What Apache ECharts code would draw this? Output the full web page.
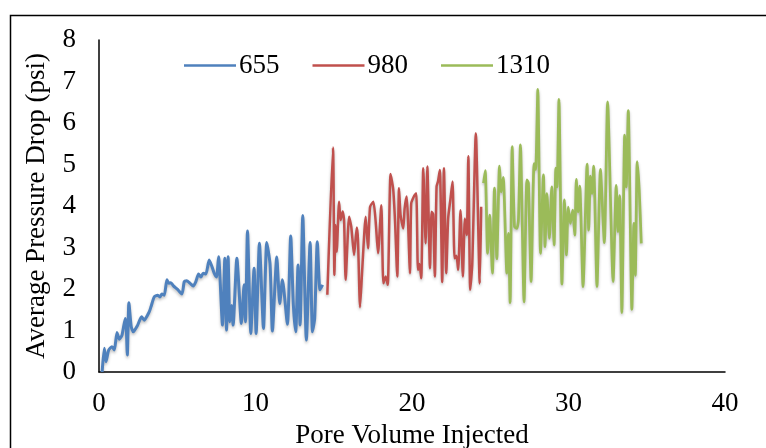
<!DOCTYPE html>
<html><head><meta charset="utf-8">
<script src="https://cdn.jsdelivr.net/npm/echarts@6/dist/echarts.min.js"></script>
<style>html,body{margin:0;padding:0;background:#fff}#c{width:766px;height:448px}</style>
</head><body><div id="c"></div>
<script>
const xTicks = [0, 10, 20, 30, 40];
const yTicks = [0, 1, 2, 3, 4, 5, 6, 7, 8];
const names = ['655', '980', '1310'];

const pv655 = [0.2,0.34,0.45,0.62,0.83,0.98,1.15,1.3,1.47,1.68,1.74,1.81,1.91,2.06,2.19,2.47,2.72,2.89,3.21,3.32,3.53,3.74,3.89,4.02,4.17,4.34,4.45,4.59,4.77,5.02,5.3,5.45,5.6,5.81,6.02,6.19,6.36,6.51,6.66,6.83,7.04,7.21,7.36,7.51,7.64,7.89,8.04,8.15,8.25,8.36,8.47,8.57,8.81,9.1,9.27,9.36,9.49,9.7,9.91,10.04,10.25,10.51,10.72,10.93,11.08,11.36,11.55,11.72,12.04,12.25,12.42,12.57,12.72,12.85,13.02,13.25,13.49,13.64,13.78,13.95,14.12,14.29];
const dp655 = [0.0,0.57,0.25,0.53,0.61,0.53,0.95,0.79,0.89,1.29,1.1,0.41,1.67,1.09,0.97,1.13,1.33,1.25,1.45,1.57,1.81,1.85,1.81,1.88,1.85,2.22,2.14,2.15,2.07,1.99,1.88,2.18,2.2,2.14,2.07,2.18,2.36,2.29,2.38,2.36,2.7,2.55,2.38,2.29,2.78,1.13,2.74,1.01,2.78,1.21,1.6,1.13,2.74,1.17,2.1,1.21,3.4,0.93,2.5,0.93,3.1,1.05,3.12,2.6,0.99,2.77,1.65,2.22,1.15,3.28,1.61,0.97,2.58,1.13,3.77,0.77,3.12,0.97,1.29,3.14,1.98,2.1];

const pv980 = [14.59,14.95,15.04,15.12,15.19,15.34,15.44,15.57,15.66,15.76,15.98,16.12,16.3,16.47,16.55,16.68,16.83,17.04,17.19,17.32,17.53,17.68,17.83,18.04,18.17,18.32,18.45,18.63,18.8,18.92,19.06,19.17,19.27,19.44,19.53,19.66,19.74,19.87,19.95,20.12,20.27,20.38,20.48,20.59,20.72,20.87,20.98,21.15,21.25,21.35,21.46,21.57,21.66,21.78,21.93,22.04,22.19,22.31,22.46,22.59,22.72,22.84,22.95,23.1,23.25,23.38,23.5,23.6,23.72,23.85,24.08,24.33,24.42];
const dp980 = [1.86,5.41,2.34,3.54,2.9,4.1,3.66,3.87,3.66,2.22,3.74,3.5,2.82,3.48,3.18,1.56,2.54,3.74,2.98,3.98,4.1,3.62,2.86,4.02,2.14,2.3,2.1,4.77,4.4,3.6,2.3,4.43,3.78,3.46,3.94,4.23,3.7,2.38,4.06,4.23,4.31,2.46,2.6,2.26,4.91,3.1,4.95,2.5,3.86,3.8,2.3,4.47,4.59,4.87,2.17,4.91,2.38,3.7,4.18,4.59,2.74,2.8,2.46,3.9,2.3,3.7,3.3,5.2,1.98,2.6,5.75,2.13,3.98];

const pv1310 = [24.57,24.68,24.83,24.96,25.14,25.27,25.42,25.59,25.7,25.83,26.06,26.16,26.27,26.4,26.55,26.7,26.8,26.93,27.16,27.34,27.44,27.61,27.8,27.9,28.04,28.21,28.4,28.5,28.62,28.78,28.93,29.08,29.19,29.27,29.39,29.58,29.74,29.87,29.98,30.12,30.27,30.4,30.5,30.61,30.72,30.93,31.19,31.29,31.4,31.5,31.61,31.82,32.04,32.29,32.5,32.85,33.05,33.16,33.27,33.41,33.59,33.69,33.82,34.05,34.18,34.27,34.39,34.52,34.65];
const dp1310 = [4.55,4.85,2.86,3.78,2.38,4.43,2.73,4.96,4.34,4.69,2.38,3.34,1.67,5.43,3.5,3.46,3.66,5.47,1.69,4.63,4.55,2.18,5.02,4.88,6.81,2.86,4.75,3.02,4.3,3.22,4.46,3.06,4.91,4.46,6.57,2.12,4.15,2.82,3.97,3.58,3.9,3.3,4.64,3.86,4.48,2.06,5.01,3.42,4.72,4.3,4.96,2.06,4.88,3.12,6.51,2.18,4.5,3.38,4.25,1.43,5.71,4.46,6.3,1.51,3.58,2.33,5.07,4.38,3.1];

const colors = ['#4F81BD', '#C0504D', '#9BBB59'];
const widths = [3, 2.5, 2.75];
const FONT = '"Liberation Serif", "Times New Roman", serif';

function pairs(xs, ys) { return xs.map((x, i) => [x, ys[i]]); }
const allData = [pairs(pv655, dp655), pairs(pv980, dp980), pairs(pv1310, dp1310)];

const chart = echarts.init(document.getElementById('c'));
chart.setOption({
  animation: false,
  backgroundColor: '#fff',
  textStyle: { fontFamily: FONT },
  graphic: [{
    type: 'rect', silent: true,
    shape: { x: 10.5, y: 15.5, width: 820, height: 520 },
    style: { fill: 'none', stroke: '#000', lineWidth: 1.5 }
  }],
  grid: { left: 99, right: 41, top: 40, bottom: 76, containLabel: false, outerBoundsMode: 'none' },
  legend: {
    data: names, left: 184, top: 52, icon: 'rect', padding: 0,
    itemWidth: 52, itemHeight: 2.5, itemGap: 33,
    textStyle: { fontFamily: FONT, fontSize: 27, color: '#000', padding: [0, 0, 0, -2] }
  },
  xAxis: {
    type: 'value', min: xTicks[0], max: xTicks[xTicks.length - 1], interval: 10,
    name: 'Pore Volume Injected', nameLocation: 'middle', nameGap: 50,
    nameTextStyle: { fontFamily: FONT, fontSize: 27, color: '#000' },
    axisLine: { show: true, lineStyle: { color: '#000', width: 1.5 } },
    axisTick: { show: false },
    splitLine: { show: false },
    axisLabel: { fontFamily: FONT, fontSize: 27, color: '#000', margin: 18 }
  },
  yAxis: {
    type: 'value', min: yTicks[0], max: yTicks[yTicks.length - 1], interval: 1,
    name: 'Average Pressure Drop (psi)', nameLocation: 'middle', nameGap: 49,
    nameTextStyle: { fontFamily: FONT, fontSize: 27, color: '#000' },
    axisLine: { show: true, lineStyle: { color: '#000', width: 1.5 } },
    axisTick: { show: false },
    splitLine: { show: false },
    axisLabel: { fontFamily: FONT, fontSize: 27, color: '#000', margin: 23 }
  },
  series: names.map((n, i) => ({
    name: n, type: 'line', data: allData[i], symbol: 'none', smooth: 0.2,
    lineStyle: { color: colors[i], width: widths[i], shadowColor: 'rgba(0,0,0,0.25)', shadowBlur: 3, shadowOffsetY: 2 },
    itemStyle: { color: colors[i] }
  }))
});
</script></body></html>
